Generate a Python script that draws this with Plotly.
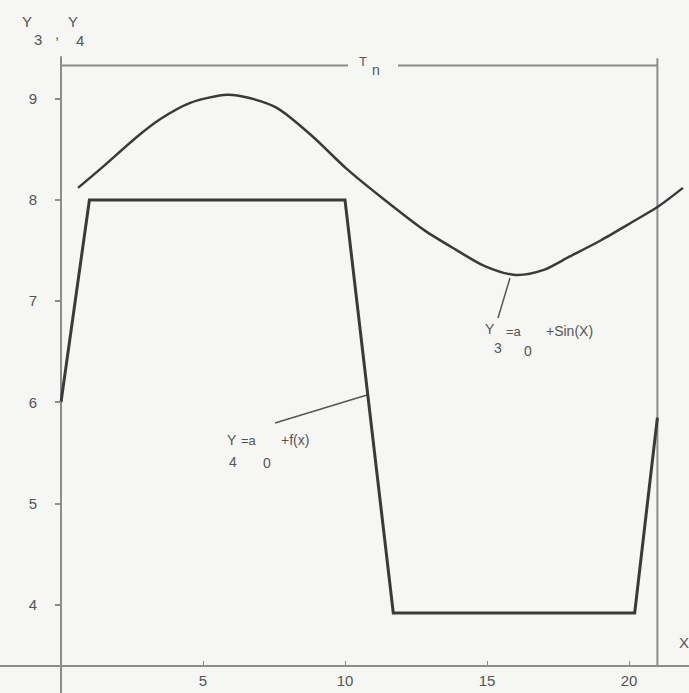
import plotly.graph_objects as go

# Y3 = a0 + Sin(X)
x3 = [0.6, 1.4, 2.7, 3.5, 4.55, 5.85, 6.6, 7.6, 8.85, 10.05, 11.4, 12.8,
      13.9, 14.9, 16.0, 17.0, 17.9, 19.0, 20.1, 21.0, 21.9]
y3 = [8.12, 8.31, 8.63, 8.80, 8.96, 9.04, 9.01, 8.91, 8.63, 8.31, 8.00, 7.70,
      7.51, 7.35, 7.26, 7.31, 7.44, 7.60, 7.78, 7.93, 8.12]

# Y4 = a0 + f(x), piecewise linear
x4 = [0, 1.0, 10.0, 11.7, 20.2, 21.0]
y4 = [6, 8, 8, 3.92, 3.92, 5.85]

x_ticks = [5, 10, 15, 20]
y_ticks = [4, 5, 6, 7, 8, 9]
period = 21          # T_n
top_level = 9.33     # height of the T_n bracket
x_axis_level = 3.40  # where the X axis crosses

W, H = 689, 693
xr = [-61 / 28.4, (W - 61) / 28.4]
yr = [8 - (H - 200) / 101.2, 8 + 200 / 101.2]


# pixel -> data helpers for placing the labels
def px(p):
    return xr[0] + p / W * (xr[1] - xr[0])


def py(p):
    return yr[1] - p / H * (yr[1] - yr[0])


curve = '#3a3a3a'
axis = '#8c8c8c'
txt = '#555555'
family = 'Liberation Sans, Arial, sans-serif'
font = dict(family=family, size=15, color=txt)

fig = go.Figure()
fig.add_trace(go.Scatter(x=x3, y=y3, mode='lines', line=dict(color=curve, width=2.5, shape='spline', smoothing=0.8),
                         hoverinfo='skip', showlegend=False))
fig.add_trace(go.Scatter(x=x4, y=y4, mode='lines', line=dict(color=curve, width=3),
                         hoverinfo='skip', showlegend=False))

shapes = [
    dict(type='line', x0=0, x1=0, y0=yr[0], y1=9.42, line=dict(color=axis, width=2)),
    dict(type='line', x0=period, x1=period, y0=x_axis_level, y1=9.40, line=dict(color=axis, width=2)),
    dict(type='line', x0=0, x1=px(348), y0=top_level, y1=top_level, line=dict(color=axis, width=2)),
    dict(type='line', x0=px(398), x1=period, y0=top_level, y1=top_level, line=dict(color=axis, width=2)),
    # leader lines
    dict(type='line', x0=px(510), y0=py(278), x1=px(498), y1=py(318), line=dict(color='#555555', width=1.5)),
    dict(type='line', x0=px(275), y0=py(423), x1=px(367), y1=py(395), line=dict(color='#555555', width=1.5)),
]
for s in shapes:
    s['layer'] = 'below'

anns = [
    # axis titles
    ('Y', 27, 21, 15), ('3', 38, 39, 15), (',', 57, 33, 15), ('Y', 73, 21, 15), ('4', 80, 40, 15),
    ('X', 684, 642, 15),
    # T_n
    ('T', 363, 61, 13), ('n', 376, 70, 14),
    # Y3 label
    ('Y', 490, 329, 14), ('3', 498, 348, 14), ('=a', 514, 331, 13), ('0', 528, 351, 14),
    ('+Sin(X)', 569, 331, 14),
    # Y4 label
    ('Y', 232, 440, 14), ('4', 233, 462, 14), ('=a', 249, 440, 13), ('0', 267, 463, 14),
    ('+f(x)', 295, 440, 14),
]
annotations = [dict(x=px(a), y=py(b), text=t, showarrow=False, xanchor='center', yanchor='middle',
                    font=dict(family=family, size=s, color=txt)) for t, a, b, s in anns]

fig.update_layout(
    width=W, height=H,
    margin=dict(l=0, r=0, t=0, b=0),
    paper_bgcolor='#f6f6f4', plot_bgcolor='#f6f6f4',
    font=font,
    shapes=shapes,
    annotations=annotations,
    xaxis=dict(range=xr, anchor='free', position=(x_axis_level - yr[0]) / (yr[1] - yr[0]),
               showline=True, linecolor=axis, linewidth=2, ticks='inside', ticklen=4,
               tickcolor=axis, tickvals=x_ticks, showgrid=False, zeroline=False,
               ticklabelstandoff=1, tickfont=font),
    yaxis=dict(range=yr, anchor='free', position=(0 - xr[0]) / (xr[1] - xr[0]),
               showline=False, ticks='outside', ticklen=6, tickcolor=axis, tickwidth=1.5,
               tickvals=y_ticks, showgrid=False, zeroline=False,
               ticklabelstandoff=15, tickfont=font),
)

# drop the page's default body margin so the figure fills the window
fig.write_html('out.html', config={'displayModeBar': False},
               post_script="document.body.style.margin='0';document.body.style.background='#f6f6f4';")
